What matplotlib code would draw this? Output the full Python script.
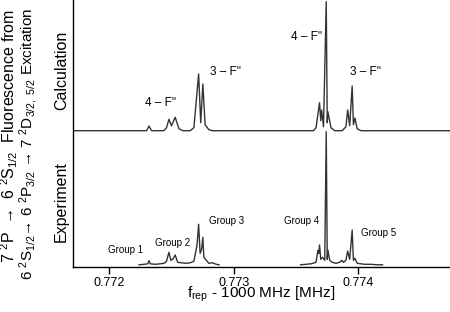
import matplotlib
matplotlib.use("Agg")
import matplotlib.pyplot as plt

plt.rcParams['font.family'] = ['Liberation Sans', 'DejaVu Sans']
plt.rcParams['mathtext.fontset'] = 'custom'
plt.rcParams['mathtext.rm'] = 'Liberation Sans'
plt.rcParams['mathtext.it'] = 'Liberation Sans:italic'
plt.rcParams['mathtext.bf'] = 'Liberation Sans:bold'

# ---- data (frequency offset in MHz, signal in arb. units) ----
calc_f = [0.77171, 0.77230, 0.77232, 0.77234, 0.77244, 0.77246, 0.77248, 0.77250,
          0.77253, 0.77256, 0.77259, 0.77265, 0.77268, 0.772718, 0.772735, 0.772752,
          0.77277, 0.772782, 0.77280, 0.77283, 0.77364, 0.77366, 0.773688, 0.773698,
          0.773705, 0.77372, 0.773742, 0.77375, 0.773755, 0.77378, 0.77381, 0.77387,
          0.77390, 0.773914, 0.77393, 0.773950, 0.77396, 0.773972, 0.77399, 0.77402,
          0.77473]
calc_s = [0, 0, 4.7, 0, 0, 3, 11.4, 5,
          13.4, 2, 0, 0, 3, 56.7, 8, 46.7,
          6, 4, 1, 0, 0, 3, 28, 10,
          20.7, 4, 129, 8, 19, 3, 0, 0,
          4, 20.7, 5, 44.7, 6, 12.7, 2, 0,
          0]

exp1_f = [0.77224, 0.77228, 0.77231, 0.77232, 0.77233, 0.77237, 0.77241, 0.77244,
          0.77246, 0.77248, 0.772495, 0.77251, 0.77253, 0.77255, 0.77258, 0.77262,
          0.77265, 0.77268, 0.772705, 0.772718, 0.772730, 0.772742, 0.772752, 0.77276,
          0.77278, 0.77280, 0.77283, 0.77286, 0.772882]
exp1_s = [0.5, 1, 1.5, 4.6, 1.5, 1, 1.5, 2,
          4, 13, 5, 6, 10.3, 3, 2.5, 2,
          2.5, 4, 20, 41, 12, 16, 28, 8,
          5, 2, 2.5, 1, 0.5]

exp2_f = [0.773536, 0.77358, 0.77362, 0.77366, 0.773675, 0.773682, 0.773688, 0.773698,
          0.773712, 0.77373, 0.773742, 0.77375, 0.773755, 0.77377, 0.77379, 0.77382,
          0.77385, 0.773867, 0.77388, 0.77390, 0.773914, 0.77393, 0.77395, 0.77396,
          0.773972, 0.77399, 0.77402, 0.77405, 0.77410, 0.77415, 0.774194]
exp2_s = [0.5, 1, 1.5, 3, 15, 12, 20.3, 6,
          8, 5, 133.6, 6, 15.3, 5, 3, 2,
          3, 5, 3, 5, 14.3, 6, 35.3, 5,
          7, 2, 1.5, 1, 1, 0.5, 0.5]

xticks = [0.772, 0.773, 0.774]
xtick_labels = ["0.772", "0.773", "0.774"]

calc_labels = ["4 – F''", "3 – F''", "4 – F''", "3 – F''"]
exp_labels = ["Group 1", "Group 2", "Group 3", "Group 4", "Group 5"]

# ---- layout ----
W, H = 450, 312
fig = plt.figure(figsize=(W / 100, H / 100), dpi=100)
ax_left, ax_bottom_px = 73, 267.3
ax = fig.add_axes([ax_left / W, (H - ax_bottom_px) / H, (W - ax_left) / W, ax_bottom_px / H])

exp_off = 2.0
calc_off = 136.6
col = '#333333'

ax.plot(calc_f, [v + calc_off for v in calc_s], color=col, lw=1.0)
ax.plot(exp1_f, [v + exp_off for v in exp1_s], color=col, lw=1.0)
ax.plot(exp2_f, [v + exp_off for v in exp2_s], color=col, lw=1.0)

ax.set_xlim(0.77171, 0.774735)
ax.set_ylim(0, ax_bottom_px)

for s in ['top', 'right']:
    ax.spines[s].set_visible(False)
ax.spines['left'].set_linewidth(1.0)
ax.spines['bottom'].set_linewidth(1.0)
ax.set_yticks([])
ax.set_xticks(xticks)
ax.set_xticklabels(xtick_labels, fontsize=9)
ax.tick_params(axis='x', direction='out', length=5, width=1, pad=2)
ax.set_xlabel(r"f$_{\mathrm{rep}}$ - 1000 MHz [MHz]", fontsize=11, labelpad=-3)


def px2data(px, py):
    return 0.772 + (px - 109.3) / 125 * 0.001, ax_bottom_px - py


calc_pos = [(161, 103), (226, 72), (307, 37), (366, 72)]
for lab, (px, py) in zip(calc_labels, calc_pos):
    x, y = px2data(px, py)
    ax.text(x, y, lab, fontsize=8.5, ha='center', va='center')

exp_pos = [(125.5, 250), (172.5, 242.7), (226.7, 220.7), (302.7, 220.7), (380, 232.7)]
for lab, (px, py) in zip(exp_labels, exp_pos):
    x, y = px2data(px, py)
    ax.text(x, y, lab, fontsize=7, ha='center', va='center')

fig.text(61.7 / W, 1 - 70.5 / H, "Calculation", rotation=90, fontsize=11.5, ha='center', va='center')
fig.text(61.7 / W, 1 - 201.5 / H, "Experiment", rotation=90, fontsize=11.5, ha='center', va='center')

fig.text(9.5 / W, 1 - 136.5 / H, r"7 $^2$P  →  6 $^2$S$_{1/2}$  Fluorescence from",
         rotation=90, fontsize=11.5, ha='center', va='center')
fig.text(29 / W, 1 - 144 / H, r"6 $^2$S$_{1/2}$→ 6 $^2$P$_{3/2}$ → 7 $^2$D$_{3/2,\ 5/2}$ Excitation",
         rotation=90, fontsize=11, ha='center', va='center')

fig.savefig("out.png", dpi=100)
